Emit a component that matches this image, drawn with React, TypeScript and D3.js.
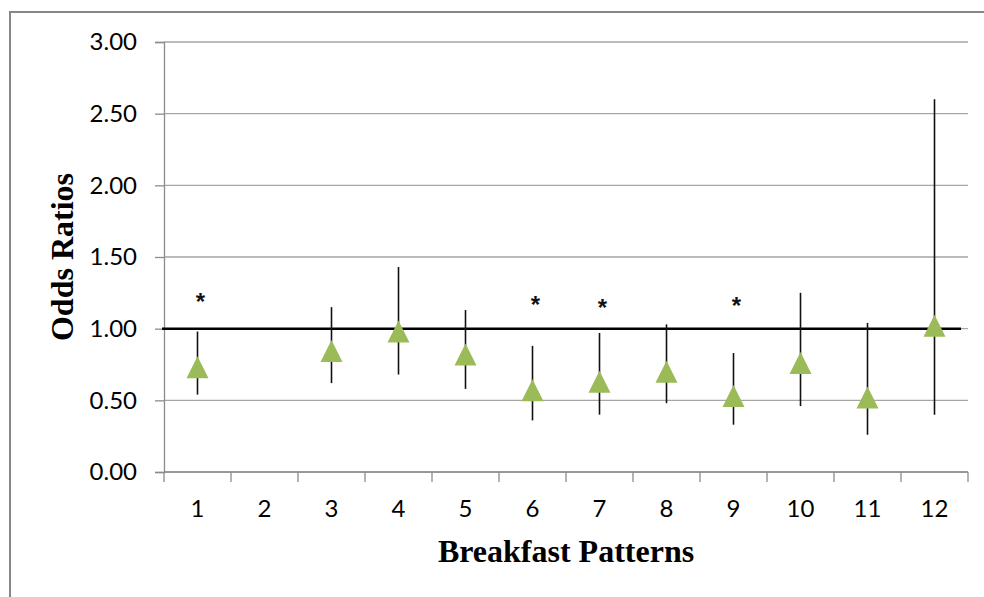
import * as d3 from 'd3'
import { useEffect, useRef } from 'react'

// breakfast patterns and odds ratios with 95% CI (pattern 2 = reference, no estimate)
const patterns = ['1', '2', '3', '4', '5', '6', '7', '8', '9', '10', '11', '12']
const oddsRatios: (number | null)[] = [0.73, null, 0.845, 0.98, 0.82, 0.57, 0.63, 0.70, 0.53, 0.76, 0.52, 1.02]
const lowerCI: (number | null)[] = [0.54, null, 0.62, 0.68, 0.58, 0.36, 0.40, 0.48, 0.33, 0.46, 0.26, 0.40]
const upperCI: (number | null)[] = [0.98, null, 1.15, 1.43, 1.13, 0.88, 0.97, 1.03, 0.83, 1.25, 1.04, 2.60]
const significant = ['1', '6', '7', '9']
const starLevels = [1.22, 1.2, 1.18, 1.19]
const yTicks = [0, 0.5, 1, 1.5, 2, 2.5, 3]
const referenceValue = 1

// excel-style triangle: centred on its bounding box, not its centroid
const boxTriangle = {
    draw(context: any, size: number) {
        const s = Math.sqrt(size)
        context.moveTo(0, -s / 2)
        context.lineTo(s / 2, s / 2)
        context.lineTo(-s / 2, s / 2)
        context.closePath()
    }
}

const App = () => {
    const ref = useRef<SVGSVGElement>(null)

    useEffect(() => {
        const width = 984
        const height = 597
        const margin = { top: 42, right: 16, bottom: 125, left: 164 }

        const svg = d3.select(ref.current)
        svg.selectAll('*').remove()

        // outer chart frame (cut off at right/bottom)
        svg.append('rect')
            .attr('x', 10)
            .attr('y', 12)
            .attr('width', 1000)
            .attr('height', 700)
            .attr('fill', '#fff')
            .attr('stroke', '#878787')
            .attr('stroke-width', 2)

        const x = d3.scaleBand()
            .domain(patterns)
            .range([margin.left, width - margin.right])

        const y = d3.scaleLinear()
            .domain([0, 3])
            .range([height - margin.bottom, margin.top])

        // gridlines
        svg.append('g')
            .selectAll('line')
            .data(yTicks)
            .join('line')
                .attr('x1', margin.left)
                .attr('x2', width - margin.right)
                .attr('y1', d => y(d))
                .attr('y2', d => y(d))
                .attr('stroke', '#a6a6a6')
                .attr('stroke-width', 1.3)

        // y axis
        const yAxis = svg.append('g')
            .attr('transform', `translate(${margin.left},0)`)
            .call(d3.axisLeft(y).tickValues(yTicks).tickFormat(d3.format('.2f')).tickSize(9).tickPadding(18))
        yAxis.select('.domain').attr('stroke', '#8c8c8c').attr('stroke-width', 1.3)
        yAxis.selectAll('.tick line').attr('stroke', '#8c8c8c').attr('stroke-width', 1.3)
        yAxis.selectAll('.tick text')
            .attr('font-family', 'Lato, sans-serif')
            .attr('font-size', 24)
            .attr('fill', '#000')

        // x axis with ticks between categories
        const xAxisG = svg.append('g')
            .attr('transform', `translate(0,${y(0)})`)
        xAxisG.append('line')
            .attr('x1', margin.left)
            .attr('x2', width - margin.right)
            .attr('stroke', '#8c8c8c')
            .attr('stroke-width', 1.3)
        xAxisG.selectAll('line.tick')
            .data([...patterns.map(p => x(p)!), width - margin.right])
            .join('line')
                .attr('class', 'tick')
                .attr('x1', d => d)
                .attr('x2', d => d)
                .attr('y1', 0)
                .attr('y2', 10)
                .attr('stroke', '#8c8c8c')
                .attr('stroke-width', 1.3)
        xAxisG.selectAll('text')
            .data(patterns)
            .join('text')
                .attr('x', d => x(d)! + x.bandwidth() / 2)
                .attr('y', 45)
                .attr('text-anchor', 'middle')
                .attr('font-family', 'Lato, sans-serif')
                .attr('font-size', 24)
                .attr('fill', '#000')
                .text(d => d)

        // reference line at OR = 1
        svg.append('line')
            .attr('x1', margin.left - 2)
            .attr('x2', width - margin.right - 7)
            .attr('y1', y(referenceValue))
            .attr('y2', y(referenceValue))
            .attr('stroke', '#000')
            .attr('stroke-width', 2.5)

        const rows = patterns.map((p, i) => ({
            p, or: oddsRatios[i], lo: lowerCI[i], hi: upperCI[i]
        })).filter(r => r.or !== null)

        // error bars
        svg.append('g')
            .selectAll('line')
            .data(rows)
            .join('line')
                .attr('x1', d => x(d.p)! + x.bandwidth() / 2)
                .attr('x2', d => x(d.p)! + x.bandwidth() / 2)
                .attr('y1', d => y(d.lo!))
                .attr('y2', d => y(d.hi!))
                .attr('stroke', '#111')
                .attr('stroke-width', 1.6)

        // triangle markers
        const tri = d3.symbol().type(boxTriangle as any).size(22 * 22)
        svg.append('g')
            .selectAll('path')
            .data(rows)
            .join('path')
                .attr('transform', d => `translate(${x(d.p)! + x.bandwidth() / 2},${y(d.or!)})`)
                .attr('d', tri)
                .attr('fill', '#9bbb59')

        // significance stars
        svg.append('g')
            .selectAll('text')
            .data(significant)
            .join('text')
                .attr('x', (d) => x(d)! + x.bandwidth() / 2 + 3)
                .attr('y', (d, i) => y(starLevels[i]) + 13)
                .attr('text-anchor', 'middle')
                .attr('font-family', 'Liberation Sans, Arial, sans-serif')
                .attr('font-weight', 'bold')
                .attr('font-size', 24)
                .attr('fill', '#111')
                .text('*')

        // axis titles
        svg.append('text')
            .attr('x', (margin.left + width - margin.right) / 2)
            .attr('y', 562)
            .attr('text-anchor', 'middle')
            .attr('font-family', 'Liberation Serif, Times New Roman, serif')
            .attr('font-weight', 'bold')
            .attr('font-size', 32)
            .text('Breakfast Patterns')

        svg.append('text')
            .attr('transform', `translate(73,${(y(0) + y(3)) / 2}) rotate(-90)`)
            .attr('text-anchor', 'middle')
            .attr('font-family', 'Liberation Serif, Times New Roman, serif')
            .attr('font-weight', 'bold')
            .attr('font-size', 32)
            .text('Odds Ratios')
    }, [])

    return (
        <svg
            ref={ref}
            width={984}
            height={597}
            style={{ position: 'absolute', left: 0, top: 0, background: '#fff' }}
        />
    )
}

export default App
